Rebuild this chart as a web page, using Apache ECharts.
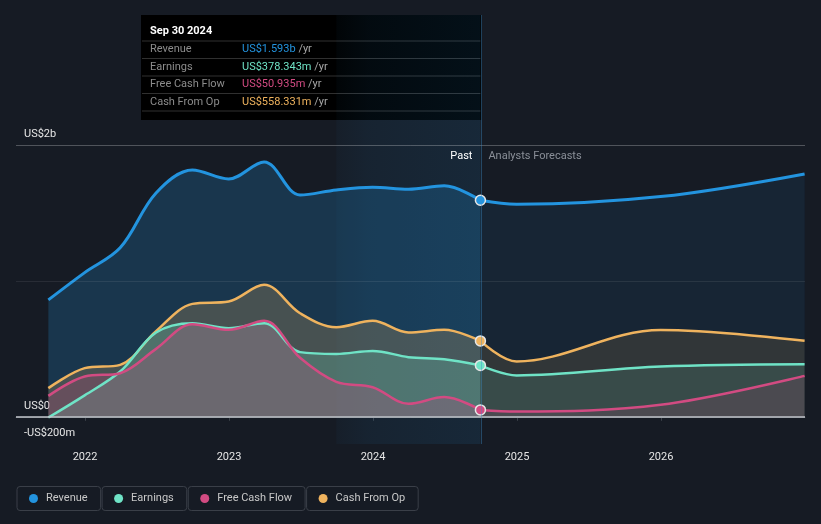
<!DOCTYPE html>
<html>
<head>
<meta charset="utf-8">
<script src="https://cdn.jsdelivr.net/npm/echarts@6/dist/echarts.min.js"></script>
<style>
html,body{margin:0;padding:0;background:#161b24;}
#c{width:821px;height:524px;}
</style>
</head>
<body>
<div id="c"></div>
<script>
// ---- data (US$ millions) ----
const pastDates = ['2021-09-30','2021-12-31','2022-03-31','2022-06-30','2022-09-30','2022-12-31','2023-03-31','2023-06-30','2023-09-30','2023-12-31','2024-03-31','2024-06-30','2024-09-30'];
const forecastDates = ['2024-09-30','2024-12-31','2025-12-31','2026-12-31'];

const revenuePast = [860, 1061, 1243, 1647, 1816, 1750, 1875, 1632, 1669, 1689, 1674, 1699, 1593];
const revenueForecast = [1593, 1564, 1620, 1787];

const earningsPast = [-5, 158, 333, 620, 689, 652, 689, 476, 463, 485, 439, 424, 378.343];
const earningsForecast = [378.343, 304, 370, 387];

const fcfPast = [154, 297, 321, 500, 681, 640, 706, 434, 257, 218, 96, 145, 50.935];
const fcfForecast = [50.935, 39, 88, 301];

const cfoPast = [211, 358, 382, 630, 831, 848, 971, 762, 659, 706, 620, 640, 558.331];
const cfoForecast = [558.331, 407, 638, 559];

const seriesNames = ['Revenue', 'Earnings', 'Free Cash Flow', 'Cash From Op'];
const yTickValues = [-200, 0, 2000];
const xTickYears = [2022, 2023, 2024, 2025, 2026];
const bandStart = '2023-09-30';
const axisStart = '2021-07-10';
const axisEnd = '2027-01-01';

// ---- styling ----
const COLORS = ['#2394df', '#6fe3c6', '#d24b82', '#efb35e'];
const FONT = 'Roboto, "Noto Sans", sans-serif';

// date string -> decimal year (x axis is a value axis in years)
function yr(d) {
  const p = d.split('-').map(Number);
  const t = Date.UTC(p[0], p[1] - 1, p[2]);
  const a = Date.UTC(p[0], 0, 1), b = Date.UTC(p[0] + 1, 0, 1);
  return p[0] + (t - a) / (b - a);
}
function fmtMoney(v, dec) {
  if (v === 0) return 'US$0';
  const s = v < 0 ? '-' : '';
  const a = Math.abs(v);
  if (a >= 1000) return s + 'US$' + (dec ? (a / 1000).toFixed(3) : String(a / 1000)) + 'b';
  return s + 'US$' + (dec ? a.toFixed(3) : String(a)) + 'm';
}
function fmtDate(d) {
  const m = ['Jan','Feb','Mar','Apr','May','Jun','Jul','Aug','Sep','Oct','Nov','Dec'];
  const p = d.split('-').map(Number);
  return m[p[1] - 1] + ' ' + p[2] + ' ' + p[0];
}

const pastSets = [revenuePast, earningsPast, fcfPast, cfoPast];
const fcSets = [revenueForecast, earningsForecast, fcfForecast, cfoForecast];
const lastIdx = pastDates.length - 1;

function mkSeries(i, past) {
  const dates = past ? pastDates : forecastDates;
  const vals = past ? pastSets[i] : fcSets[i];
  return {
    name: seriesNames[i],
    type: 'line',
    smooth: 0.35,
    z: past ? 3 : 2,
    data: dates.map((d, k) => [yr(d), vals[k]]),
    showSymbol: true,
    symbol: past ? function (v, p) { return p.dataIndex === lastIdx ? 'circle' : 'none'; } : 'none',
    symbolSize: 10,
    lineStyle: { color: COLORS[i], width: i === 0 ? 3 : 2.5 },
    itemStyle: { color: COLORS[i], borderColor: '#e6e6e6', borderWidth: 1.5 },
    areaStyle: { color: COLORS[i], opacity: past ? (i === 0 ? 0.22 : 0.22) : (i === 0 ? 0.09 : 0.12) },
    emphasis: { disabled: true },
    silent: true
  };
}

const dataSeries = [];
[0, 3, 1, 2].forEach(i => { dataSeries.push(mkSeries(i, true)); dataSeries.push(mkSeries(i, false)); });

const chart = echarts.init(document.getElementById('c'), null, { renderer: 'canvas' });

const option = {
  animation: false,
  backgroundColor: '#161b24',
  textStyle: { fontFamily: FONT },
  grid: { left: 16, right: 16, top: 15, bottom: 80, containLabel: false },
  xAxis: {
    type: 'value',
    min: yr(axisStart),
    max: yr(axisEnd),
    axisLine: { show: true, lineStyle: { color: '#3b4049', width: 1 } },
    axisTick: { show: true, customValues: xTickYears, length: 4, lineStyle: { color: '#3b4049' } },
    axisLabel: {
      customValues: xTickYears,
      formatter: v => String(Math.round(v)),
      color: '#e6e6e6', fontSize: 11, fontFamily: FONT, margin: 8
    },
    splitLine: { show: false }
  },
  yAxis: {
    type: 'value',
    min: -200,
    max: 2956,
    axisLine: { show: false },
    axisTick: { show: false },
    splitLine: { show: false },
    axisLabel: {
      inside: true,
      customValues: yTickValues,
      formatter: v => fmtMoney(v, false),
      color: '#e6e6e6', fontSize: 11, fontFamily: FONT,
      margin: 8, verticalAlign: 'bottom', padding: [0, 0, 5, 0]
    }
  },
  legend: {
    data: seriesNames,
    left: 7,
    top: 481,
    icon: 'none',
    itemWidth: 0,
    itemHeight: 0,
    itemGap: -4,
    selectedMode: false,
    formatter: name => '{d' + seriesNames.indexOf(name) + '|}{n|' + name + '}',
    textStyle: {
      color: '#c8c8c8', fontSize: 11, fontFamily: FONT,
      borderColor: '#3a3f48', borderWidth: 1, borderRadius: 3,
      padding: [5, 13, 5, 12], lineHeight: 14,
      rich: Object.assign({
        n: { color: '#c8c8c8', fontSize: 11, fontFamily: FONT, padding: [0, 0, 0, 8], lineHeight: 14 }
      }, Object.fromEntries(COLORS.map((c, i) => ['d' + i, { width: 9, height: 9, borderRadius: 4.5, backgroundColor: c }])))
    }
  },
  series: [
    {
      name: 'band', type: 'line', data: [], z: 1, silent: true,
      markArea: {
        silent: true,
        itemStyle: {
          color: { type: 'linear', x: 0, y: 0, x2: 1, y2: 0, colorStops: [
            { offset: 0, color: 'rgba(35,148,223,0.03)' },
            { offset: 0.22, color: 'rgba(35,148,223,0.07)' },
            { offset: 1, color: 'rgba(35,148,223,0.11)' }
          ] }
        },
        data: [[{ xAxis: yr(bandStart) }, { xAxis: yr(pastDates[lastIdx]) }]]
      }
    },
    ...dataSeries,
    {
      name: 'grid', type: 'line', data: [], z: 5, silent: true,
      markLine: {
        silent: true, symbol: 'none', label: { show: false },
        data: [
          { yAxis: 2000, lineStyle: { color: 'rgba(255,255,255,0.25)', width: 1, type: 'solid' } },
          { yAxis: 1000, lineStyle: { color: 'rgba(255,255,255,0.08)', width: 1, type: 'solid' } },
          { yAxis: 0, lineStyle: { color: '#c4c8ce', width: 1.5, type: 'solid' } },
          { xAxis: yr(pastDates[lastIdx]), lineStyle: { color: 'rgba(60,140,200,0.4)', width: 1, type: 'solid' } }
        ]
      }
    }
  ]
};

chart.setOption(option);

// ---- overlay texts: Past / Forecast labels and tooltip box ----
const divX = chart.convertToPixel({ xAxisIndex: 0 }, yr(pastDates[lastIdx]));
const tipVals = pastSets.map(a => a[lastIdx]);
const tipChildren = [
  { type: 'rect', shape: { x: 141, y: 15, width: divX - 141 + 1, height: 105 }, style: { fill: '#000' } },
  { type: 'text', x: 150, y: 31, style: { text: fmtDate(pastDates[lastIdx]), fill: '#ffffff', font: 'bold 11px ' + FONT, verticalAlign: 'middle' } }
];
[41, 58.5, 76, 93.5, 111].forEach(y => {
  tipChildren.push({ type: 'line', shape: { x1: 142, y1: y, x2: divX, y2: y }, style: { stroke: '#303030', lineWidth: 1 } });
});
seriesNames.forEach((n, i) => {
  const cy = 49.5 + i * 17.5;
  tipChildren.push({ type: 'text', x: 150, y: cy, style: { text: n, fill: '#8c8c8c', font: '11px ' + FONT, verticalAlign: 'middle' } });
  tipChildren.push({ type: 'text', x: 242, y: cy, style: {
    text: '{v|' + fmtMoney(tipVals[i], true) + '}{u| /yr}', verticalAlign: 'middle',
    rich: { v: { fill: COLORS[i], font: '11px ' + FONT }, u: { fill: '#a8a8a8', font: '11px ' + FONT } }
  } });
});

chart.setOption({
  graphic: [
    { type: 'text', x: divX - 8, y: 156, z: 50, style: { text: 'Past', fill: '#ffffff', font: '11px ' + FONT, align: 'right', verticalAlign: 'middle' } },
    { type: 'text', x: divX + 8, y: 156, z: 50, style: { text: 'Analysts Forecasts', fill: '#8a8f98', font: '11px ' + FONT, align: 'left', verticalAlign: 'middle' } },
    { type: 'group', z: 100, children: tipChildren }
  ]
});
</script>
</body>
</html>
